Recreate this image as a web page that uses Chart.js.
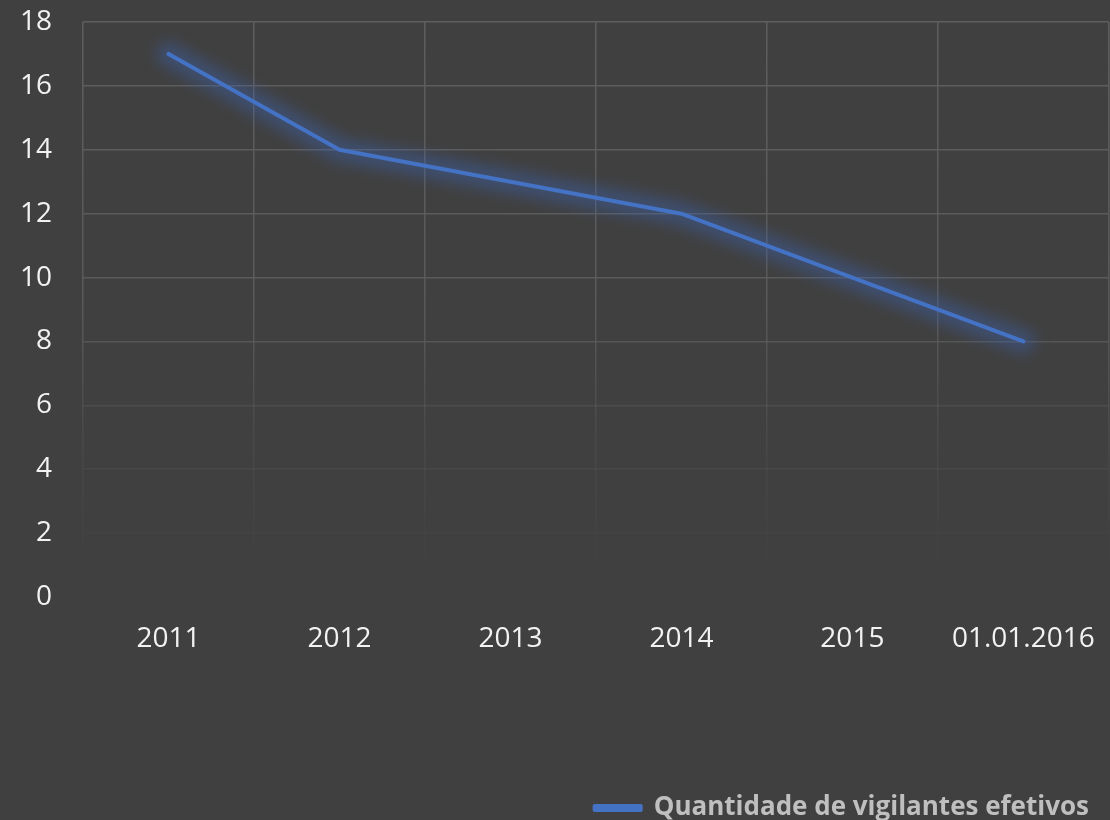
<!DOCTYPE html>
<html>
<head>
<meta charset="utf-8">
<script src="https://cdn.jsdelivr.net/npm/chart.js@4.4.1/dist/chart.umd.min.js"></script>
<style>
    html, body { margin: 0; padding: 0; background: #404040; overflow: hidden; }
    #wrap { width: 1120px; height: 820px; position: relative; }
</style>
</head>
<body>
<div id="wrap"><canvas id="vigilantesChart"></canvas></div>
<script>
// Dados do gráfico
const categorias = ['2011', '2012', '2013', '2014', '2015', '01.01.2016'];
const vigilantes = [17, 14, 13, 12, 10, 8];
const serieNome = 'Quantidade de vigilantes efetivos';
const yMin = 0;
const yMax = 18;
const yPasso = 2;

// Gradiente das linhas de grade (somem em direção à base)
function gridGradient(context) {
    const chart = context.chart;
    const area = chart.chartArea;
    if (!area) return 'rgba(90,90,90,1)';
    const g = chart.ctx.createLinearGradient(0, area.top, 0, area.bottom);
    g.addColorStop(0, 'rgba(94,94,94,1)');
    g.addColorStop(0.5, 'rgba(94,94,94,0.85)');
    g.addColorStop(0.7, 'rgba(94,94,94,0.35)');
    g.addColorStop(0.9, 'rgba(94,94,94,0.08)');
    g.addColorStop(1, 'rgba(94,94,94,0)');
    return g;
}

// Brilho (glow) da linha: desenha a própria linha larga e desfocada por baixo
const glowPlugin = {
    id: 'glow',
    beforeDatasetDraw(chart, args) {
        const line = args.meta.dataset;
        if (!line) return;
        const ctx = chart.ctx;
        const oldWidth = line.options.borderWidth;
        const oldColor = line.options.borderColor;
        ctx.save();
        ctx.filter = 'blur(7px)';
        line.options.borderWidth = 24;
        line.options.borderColor = 'rgba(60, 100, 180, 0.4)';
        line.draw(ctx, chart.chartArea);
        line.options.borderWidth = oldWidth;
        line.options.borderColor = oldColor;
        ctx.restore();
    }
};

new Chart(document.getElementById('vigilantesChart'), {
    type: 'line',
    data: {
        labels: categorias,
        datasets: [{
            label: serieNome,
            data: vigilantes,
            borderColor: '#4472C4',
            backgroundColor: '#4472C4',
            borderWidth: 4,
            borderCapStyle: 'round',
            borderJoinStyle: 'round',
            pointRadius: 0,
            tension: 0
        }]
    },
    options: {
        responsive: true,
        maintainAspectRatio: false,
        animation: false,
        layout: {
            padding: { left: 0, right: 3, top: 22, bottom: -11 }
        },
        scales: {
            x: {
                offset: true,
                border: { display: false },
                grid: {
                    offset: true,
                    drawTicks: false,
                    color: gridGradient,
                    lineWidth: 1.5
                },
                ticks: {
                    color: '#f2f2f2',
                    padding: 25,
                    maxRotation: 0,
                    font: { family: '"Open Sans"', size: 28 }
                },
                afterFit: function (scale) {
                    scale.height = 170;
                }
            },
            y: {
                min: yMin,
                max: yMax,
                border: { display: false },
                grid: {
                    drawTicks: false,
                    color: gridGradient,
                    lineWidth: 1.5
                },
                ticks: {
                    stepSize: yPasso,
                    color: '#f2f2f2',
                    padding: 31,
                    font: { family: '"Open Sans"', size: 28 }
                },
                afterFit: function (scale) {
                    scale.width = 83;
                    scale.paddingTop = 0;
                    scale.paddingBottom = 0;
                }
            }
        },
        plugins: {
            legend: {
                display: true,
                position: 'bottom',
                align: 'end',
                labels: {
                    boxWidth: 46,
                    boxHeight: 4,
                    padding: 28,
                    color: '#bfbfbf',
                    font: { family: '"Open Sans"', size: 26, weight: 'bold' }
                }
            },
            tooltip: { enabled: false }
        }
    },
    plugins: [glowPlugin]
});
</script>
</body>
</html>
